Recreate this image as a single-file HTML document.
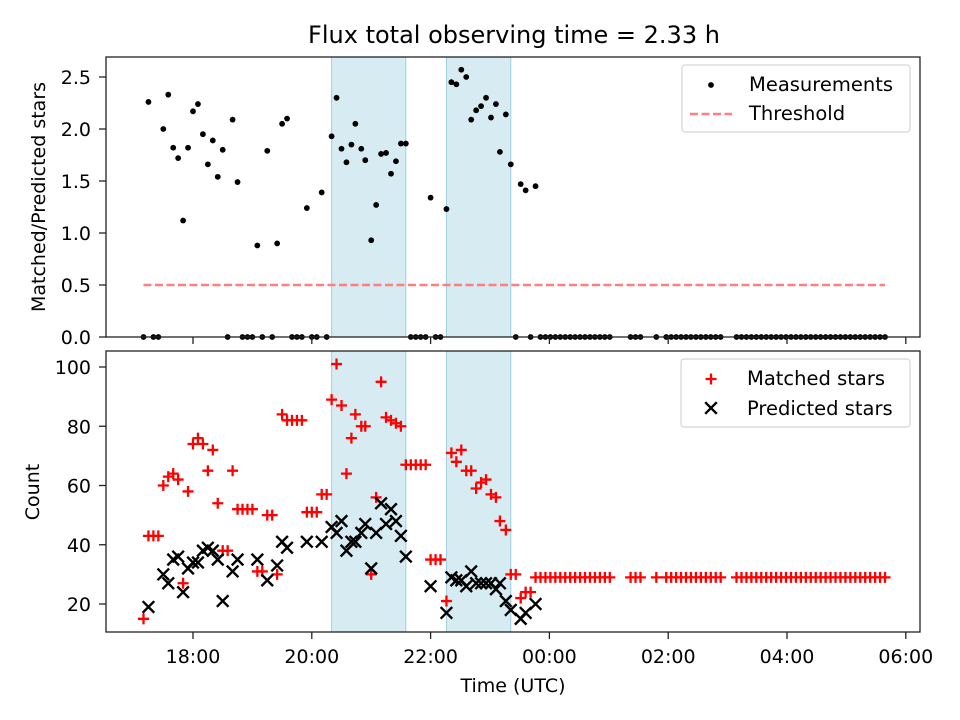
<!DOCTYPE html>
<html><head><meta charset="utf-8"><style>
body{margin:0;background:#fff;}
svg{display:block;font-family:"DejaVu Sans","Liberation Sans",sans-serif;}
</style></head><body>
<svg id="chart" width="960" height="720" viewBox="0 0 960 720">
<text x="514" y="43" text-anchor="middle" font-size="24">Flux total observing time = 2.33 h</text>
<g id="topPanel"></g><g id="botPanel"></g>
</svg>
<script>
// times in minutes since 17:00 UTC
const ratioTimes=[15,35,30,40,45,50,55,60,65,70,75,80,85,90,100,105,125,135,145,150,155,175,190,200,205,210,215,220,224,230,234,240,245,250,255,260,265,270,275,300,316,321,326,331,336,341,346,351,356,361,366,370,376,381,391,396,406,
10,20,25,95,110,115,120,130,140,160,165,170,180,185,195,280,285,290,295,305,310,386,401,
411,416,421,426,431,436,441,446,451,456,461,466,471,476,481,502,507,512,528,538,543,548,553,558,563,568,573,578,583,588,593,
609,614,619,624,629,634,639,644,649,654,659,664,669,674,679,684,689,694,699,704,709,714,719,724,729,734,739,744,749,754,759];
const ratioValues=[2.26,2.33,2.0,1.82,1.72,1.12,1.82,2.17,2.24,1.95,1.66,1.89,1.54,1.80,2.09,1.49,0.88,1.79,0.90,2.05,2.10,1.24,1.39,1.93,2.30,1.81,1.68,1.85,2.05,1.81,1.70,0.93,1.27,1.76,1.77,1.57,1.69,1.86,1.86,1.34,1.23,2.45,2.43,2.57,2.50,2.09,2.18,2.22,2.30,2.11,2.24,1.78,2.14,1.66,1.47,1.41,1.45,
0,0,0,0,0,0,0,0,0,0,0,0,0,0,0,0,0,0,0,0,0,0,0,
0,0,0,0,0,0,0,0,0,0,0,0,0,0,0,0,0,0,0,0,0,0,0,0,0,0,0,0,0,0,0,
0,0,0,0,0,0,0,0,0,0,0,0,0,0,0,0,0,0,0,0,0,0,0,0,0,0,0,0,0,0,0];
const threshold=[0.5];
const thresholdRange=[10,759];
const spans=[[200,275],[316,381]];
const matchedTimes=[10,15,20,25,30,35,40,45,50,55,60,65,70,75,80,85,90,95,100,105,110,115,120,125,130,135,140,145,150,155,160,165,170,175,180,185,190,195,200,205,210,215,220,224,230,234,240,245,250,255,260,265,270,275,280,285,290,295,300,305,310,316,321,326,331,336,341,346,351,356,361,366,370,376,381,386,391,396,401,
406,411,416,421,426,431,436,441,446,451,456,461,466,471,476,481,502,507,512,528,538,543,548,553,558,563,568,573,578,583,588,593,
609,614,619,624,629,634,639,644,649,654,659,664,669,674,679,684,689,694,699,704,709,714,719,724,729,734,739,744,749,754,759];
const matchedValues=[15,43,43,43,60,63,64,62,27,58,74,76,74,65,72,54,38,38,65,52,52,52,52,31,31,50,50,30,84,82,82,82,82,51,51,51,57,57,89,101,87,64,76,84,80,80,30,56,95,83,82,81,80,67,67,67,67,67,35,35,35,21,71,68,72,65,65,59,61,62,57,56,48,45,30,30,22,24,24,
29,29,29,29,29,29,29,29,29,29,29,29,29,29,29,29,29,29,29,29,29,29,29,29,29,29,29,29,29,29,29,29,
29,29,29,29,29,29,29,29,29,29,29,29,29,29,29,29,29,29,29,29,29,29,29,29,29,29,29,29,29,29,29];
const predictedTimes=[15,30,35,40,45,50,55,60,65,70,75,80,85,90,100,105,125,135,145,150,155,175,190,200,205,210,215,220,224,230,234,240,245,250,255,260,265,270,275,300,316,321,326,331,336,341,346,351,356,361,366,370,376,381,391,396,406];
const predictedValues=[19,30,27,35,36,24,32,34,34,38,39,38,35,21,31,35,35,28,33,41,39,41,41,46,44,48,38,41,41,44,47,32,44,54,47,52,48,43,36,26,17,29,28,28,26,31,27,27,27,27,25,27,21,18,15,17,20];
const xTickMins=[60,180,300,420,540,660,780];
const xTickLabels=["18:00","20:00","22:00","00:00","02:00","04:00","06:00"];
const topTicks=[0,0.5,1.0,1.5,2.0,2.5];
const botTicks=[20,40,60,80,100];

const NS="http://www.w3.org/2000/svg";
const AXL=106,AXR=920;
function X(m){return 193+(m-60)*0.99;}
function Yt(v){return 337-v*104;}
function Yb(v){return 367+(100-v)*2.9625;}
function mk(p,tag,a){const e=document.createElementNS(NS,tag);for(const k in a)e.setAttribute(k,a[k]);p.appendChild(e);return e;}
const gTop=document.getElementById('topPanel'),gBot=document.getElementById('botPanel');

function panel(g,y0,y1){
  for(const s of spans){
    const r=mk(g,'rect',{x:X(s[0]),y:y0,width:X(s[1])-X(s[0]),height:y1-y0,fill:'#add8e6','fill-opacity':0.5,stroke:'#9fcfe0','stroke-width':1});
    
    
  }
}
panel(gTop,57,337);panel(gBot,351,632);

const th=mk(gTop,'line',{x1:X(thresholdRange[0]),x2:X(thresholdRange[1]),y1:Yt(threshold[0]),y2:Yt(threshold[0]),stroke:'#ff7f7f','stroke-width':2.4,'stroke-dasharray':'8,3.5'});



ratioTimes.forEach((t,i)=>{
  const c=mk(gTop,'circle',{cx:X(t),cy:Yt(ratioValues[i]),r:2.9,fill:'#000'});
  
  
});
matchedTimes.forEach((t,i)=>{
  const x=X(t),y=Yb(matchedValues[i]);
  const p=mk(gBot,'path',{d:`M${x-5.5} ${y}H${x+5.5}M${x} ${y-5.5}V${y+5.5}`,stroke:'#f00','stroke-width':2.3});
  
  
});
predictedTimes.forEach((t,i)=>{
  const x=X(t),y=Yb(predictedValues[i]);
  const p=mk(gBot,'path',{d:`M${x-5.8} ${y-5.8}L${x+5.8} ${y+5.8}M${x-5.8} ${y+5.8}L${x+5.8} ${y-5.8}`,stroke:'#000','stroke-width':2.4});
  
  
});

function frame(g,y0,y1){
  const f=mk(g,'rect',{x:AXL,y:y0,width:AXR-AXL,height:y1-y0,fill:'none',stroke:'#222','stroke-width':1.3});
  
  
}
frame(gTop,57,337);frame(gBot,351,632);

xTickMins.forEach((m,i)=>{
  const x=X(m);
  const t1=mk(gTop,'line',{x1:x,x2:x,y1:337,y2:344,stroke:'#222','stroke-width':1.3});
  
  
  const t2=mk(gBot,'line',{x1:x,x2:x,y1:632,y2:639,stroke:'#222','stroke-width':1.3});
  
  
  const tx=mk(gBot,'text',{x:x,y:663,'text-anchor':'middle','font-size':19});
  tx.textContent=xTickLabels[i];
  
  
});
topTicks.forEach(v=>{
  const y=Yt(v);
  const t=mk(gTop,'line',{x1:99,x2:106,y1:y,y2:y,stroke:'#222','stroke-width':1.3});
  
  
  const tx=mk(gTop,'text',{x:91,y:y+7,'text-anchor':'end','font-size':19});
  tx.textContent=v.toFixed(1);
  
  
});
botTicks.forEach(v=>{
  const y=Yb(v);
  const t=mk(gBot,'line',{x1:99,x2:106,y1:y,y2:y,stroke:'#222','stroke-width':1.3});
  
  
  const tx=mk(gBot,'text',{x:91,y:y+7,'text-anchor':'end','font-size':19});
  tx.textContent=v;
  
  
});

document.getElementById('chart').insertAdjacentHTML('beforeend',`
<text x="513" y="692" text-anchor="middle" font-size="19">Time (UTC)</text>
<text transform="translate(45,197) rotate(-90)" text-anchor="middle" font-size="19">Matched/Predicted stars</text>
<text transform="translate(39,492) rotate(-90)" text-anchor="middle" font-size="19">Count</text>
<g>
<rect x="682" y="65" width="228" height="67" rx="3" fill="#fff" fill-opacity="0.8" stroke="#d5d5d5" stroke-width="1.2"/>
<circle cx="711" cy="85" r="2.9" fill="#000"/>
<text x="749" y="91" font-size="19.5">Measurements</text>
<line x1="690" x2="732" y1="114" y2="114" stroke="#ff7f7f" stroke-width="2.4" stroke-dasharray="8,3.5"/>
<text x="749" y="120" font-size="19.5">Threshold</text>
</g>
<g>
<rect x="681" y="359" width="229" height="68" rx="3" fill="#fff" fill-opacity="0.8" stroke="#d5d5d5" stroke-width="1.2"/>
<path d="M705.5 379H716.5M711 373.5V384.5" stroke="#f00" stroke-width="2.3"/>
<text x="747" y="385" font-size="19.5">Matched stars</text>
<path d="M705.2 402.2L716.8 413.8M705.2 413.8L716.8 402.2" stroke="#000" stroke-width="2.4"/>
<text x="747" y="415" font-size="19.5">Predicted stars</text>
</g>`);
</script>
</body></html>
